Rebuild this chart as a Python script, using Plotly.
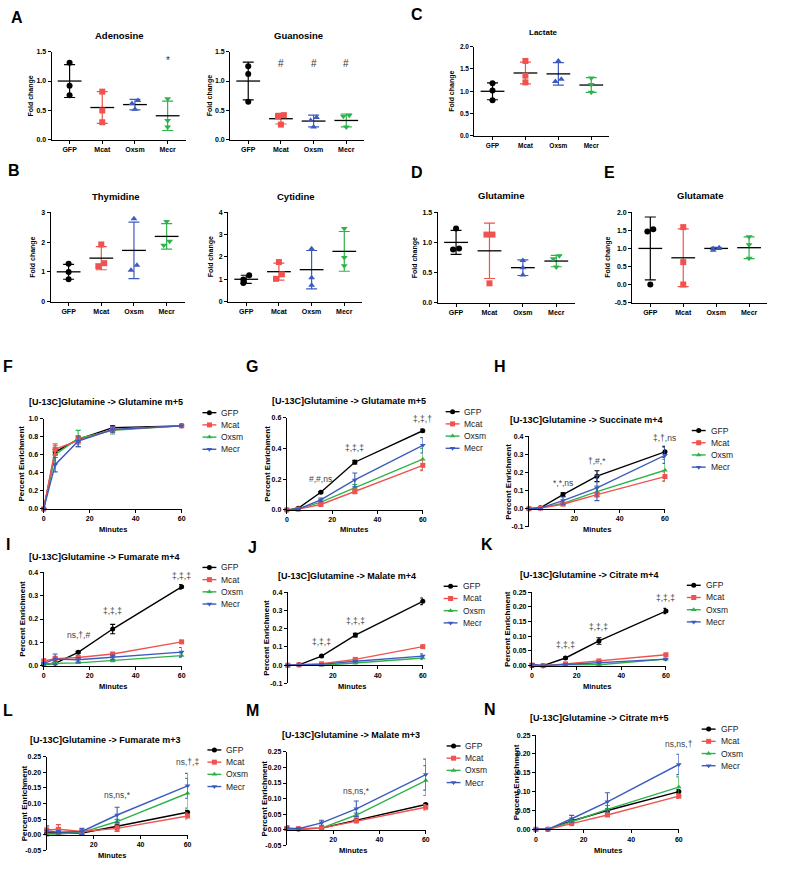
import plotly.graph_objects as go

W, H = 795, 870
FONT = "Liberation Sans, Arial, sans-serif"

GROUPS = ["GFP", "Mcat", "Oxsm", "Mecr"]
RED, BLUE, GREEN = "#f0524f", "#3c5bbf", "#2db34a"
# fold-change panels: Oxsm blue, Mecr green; time-course panels: Oxsm green, Mecr blue
FOLD_COLORS = {"GFP": "#000000", "Mcat": RED, "Oxsm": BLUE, "Mecr": GREEN}
TC_COLORS = {"GFP": "#000000", "Mcat": RED, "Oxsm": GREEN, "Mecr": BLUE}
SYMBOLS = {"GFP": "circle", "Mcat": "square", "Oxsm": "triangle-up", "Mecr": "triangle-down"}

# ---------------- fold-change data (GFP, Mcat, Oxsm, Mecr) ----------------
adenosine_pts = [[1.31, 0.92, 0.76], [0.82, 0.50, 0.30], [0.67, 0.62, 0.52], [0.70, 0.33, 0.22]]
adenosine_mean = [1.00, 0.55, 0.60, 0.41]
adenosine_sd = [0.28, 0.27, 0.09, 0.25]

guanosine_pts = [[1.25, 1.12, 0.65], [0.42, 0.40, 0.26], [0.38, 0.33, 0.22], [0.42, 0.40, 0.22]]
guanosine_mean = [1.00, 0.36, 0.32, 0.33]
guanosine_sd = [0.32, 0.09, 0.10, 0.11]

lactate_pts = [[1.18, 1.02, 0.80], [1.68, 1.35, 1.20], [1.68, 1.27, 1.22], [1.30, 1.15, 0.98]]
lactate_mean = [1.00, 1.41, 1.39, 1.14]
lactate_sd = [0.19, 0.245, 0.25, 0.165]

thymidine_pts = [[1.27, 0.99, 0.75], [1.92, 1.29, 1.19], [2.78, 1.22, 1.05], [2.69, 2.03, 1.89]]
thymidine_mean = [1.00, 1.46, 1.72, 2.19]
thymidine_sd = [0.25, 0.39, 0.95, 0.43]

cytidine_pts = [[1.18, 0.99, 0.83], [1.77, 1.22, 1.02], [2.37, 1.07, 0.73], [3.28, 1.97, 1.61]]
cytidine_mean = [1.00, 1.34, 1.43, 2.25]
cytidine_sd = [0.18, 0.38, 0.86, 0.89]

glutamine_pts = [[1.23, 0.90, 0.88], [1.13, 1.13, 0.32], [0.70, 0.58, 0.46], [0.78, 0.73, 0.59]]
glutamine_mean = [1.00, 0.86, 0.58, 0.69]
glutamine_sd = [0.20, 0.46, 0.13, 0.095]

glutamate_pts = [[1.53, 1.47, 0.00], [1.59, 0.62, 0.00], [1.02, 1.00, 0.95], [1.32, 1.10, 0.73]]
glutamate_mean = [1.00, 0.74, 1.00, 1.02]
glutamate_sd = [0.87, 0.80, 0.03, 0.30]

adenosine_notes = [(3, 1.35, "*")]
guanosine_notes = [(1, 1.30, "#"), (2, 1.30, "#"), (3, 1.30, "#")]

# ---------------- time-course data ----------------
minutes = [0, 5, 15, 30, 60]

gln_m5 = {"GFP": [0.0, 0.63, 0.77, 0.90, 0.92], "Mcat": [0.0, 0.66, 0.76, 0.88, 0.92],
          "Oxsm": [0.0, 0.60, 0.78, 0.87, 0.92], "Mecr": [0.0, 0.49, 0.75, 0.88, 0.92]}
gln_m5_sd = {"GFP": [0, 0.03, 0.03, 0.02, 0.01], "Mcat": [0, 0.06, 0.04, 0.03, 0.01],
             "Oxsm": [0, 0.10, 0.09, 0.04, 0.01], "Mecr": [0, 0.08, 0.06, 0.03, 0.01]}

glu_m5 = {"GFP": [0.0, 0.01, 0.115, 0.31, 0.515], "Mcat": [0.0, 0.005, 0.035, 0.12, 0.29],
          "Oxsm": [0.0, 0.005, 0.05, 0.145, 0.33], "Mecr": [0.0, 0.005, 0.065, 0.195, 0.42]}
glu_m5_sd = {"GFP": [0, 0.003, 0.005, 0.012, 0.01], "Mcat": [0, 0.003, 0.006, 0.015, 0.035],
             "Oxsm": [0, 0.003, 0.006, 0.02, 0.07], "Mecr": [0, 0.003, 0.012, 0.045, 0.05]}

suc_m4 = {"GFP": [0.0, 0.005, 0.078, 0.18, 0.315], "Mcat": [0.0, 0.003, 0.025, 0.078, 0.178],
          "Oxsm": [0.0, 0.003, 0.03, 0.095, 0.213], "Mecr": [0.0, 0.003, 0.045, 0.115, 0.296]}
suc_m4_sd = {"GFP": [0, 0.003, 0.01, 0.03, 0.03], "Mcat": [0, 0.002, 0.005, 0.01, 0.025],
             "Oxsm": [0, 0.002, 0.005, 0.03, 0.06], "Mecr": [0, 0.002, 0.02, 0.07, 0.045]}

fum_m4 = {"GFP": [0.005, 0.01, 0.057, 0.157, 0.338], "Mcat": [0.02, 0.03, 0.035, 0.05, 0.102],
          "Oxsm": [0.005, 0.01, 0.012, 0.022, 0.043], "Mecr": [0.01, 0.028, 0.025, 0.035, 0.058]}
fum_m4_sd = {"GFP": [0.002, 0.003, 0.004, 0.02, 0.01], "Mcat": [0.01, 0.01, 0.005, 0.005, 0.007],
             "Oxsm": [0.002, 0.003, 0.003, 0.005, 0.008], "Mecr": [0.005, 0.022, 0.01, 0.01, 0.02]}

mal_m4 = {"GFP": [0.0, 0.002, 0.05, 0.165, 0.35], "Mcat": [0.0, 0.002, 0.008, 0.032, 0.102],
          "Oxsm": [0.0, 0.001, 0.0, 0.012, 0.04], "Mecr": [0.0, 0.002, 0.005, 0.022, 0.05]}
mal_m4_sd = {"GFP": [0, 0.001, 0.004, 0.01, 0.018], "Mcat": [0, 0.001, 0.002, 0.004, 0.005],
             "Oxsm": [0, 0.001, 0.002, 0.003, 0.008], "Mecr": [0, 0.001, 0.002, 0.004, 0.012]}

cit_m4 = {"GFP": [0.0, 0.0, 0.026, 0.084, 0.186], "Mcat": [0.002, 0.0, 0.006, 0.016, 0.037],
          "Oxsm": [0.002, 0.0, 0.003, 0.003, 0.022], "Mecr": [0.005, 0.0, 0.004, 0.01, 0.022]}
cit_m4_sd = {"GFP": [0, 0.001, 0.003, 0.011, 0.009], "Mcat": [0, 0.001, 0.001, 0.002, 0.003],
             "Oxsm": [0, 0.001, 0.001, 0.001, 0.003], "Mecr": [0.002, 0.001, 0.001, 0.002, 0.003]}

fum_m3 = {"GFP": [0.005, 0.005, 0.005, 0.027, 0.072], "Mcat": [0.015, 0.017, 0.01, 0.02, 0.06],
          "Oxsm": [0.002, 0.002, 0.007, 0.042, 0.133], "Mecr": [0.012, 0.008, 0.01, 0.063, 0.157]}
fum_m3_sd = {"GFP": [0.002, 0.002, 0.002, 0.004, 0.006], "Mcat": [0.005, 0.015, 0.005, 0.01, 0.01],
             "Oxsm": [0.001, 0.002, 0.003, 0.007, 0.048], "Mecr": [0.016, 0.005, 0.01, 0.025, 0.04]}

mal_m3 = {"GFP": [0.003, 0.002, 0.005, 0.03, 0.081], "Mcat": [0.004, 0.003, 0.005, 0.028, 0.072],
          "Oxsm": [0.0, 0.001, 0.005, 0.047, 0.158], "Mecr": [0.005, 0.003, 0.022, 0.067, 0.177]}
mal_m3_sd = {"GFP": [0.001, 0.001, 0.001, 0.003, 0.004], "Mcat": [0.002, 0.001, 0.002, 0.006, 0.009],
             "Oxsm": [0.001, 0.001, 0.002, 0.006, 0.048], "Mecr": [0.007, 0.002, 0.008, 0.025, 0.05]}

cit_m5 = {"GFP": [0.0, 0.0, 0.022, 0.05, 0.10], "Mcat": [0.0, 0.0, 0.015, 0.038, 0.088],
          "Oxsm": [0.0, 0.0, 0.02, 0.053, 0.112], "Mecr": [0.0, 0.0, 0.028, 0.073, 0.172]}
cit_m5_sd = {"GFP": [0, 0, 0.002, 0.003, 0.005], "Mcat": [0, 0, 0.002, 0.003, 0.006],
             "Oxsm": [0, 0, 0.003, 0.01, 0.027], "Mecr": [0, 0, 0.009, 0.024, 0.027]}

glu_notes = [(15, 0.20, "#,#,ns"), (30, 0.40, "‡,‡,‡"), (60, 0.59, "‡,‡,†")]
suc_notes = [(15, 0.142, "*,*,ns"), (30, 0.262, "†,#,*"), (60, 0.39, "‡,†,ns")]
fum4_notes = [(15, 0.13, "ns,†,#"), (30, 0.235, "‡,‡,‡"), (60, 0.385, "‡,‡,‡")]
mal4_notes = [(15, 0.125, "‡,‡,‡"), (30, 0.24, "‡,‡,‡"), (60, 0.415, "‡,‡,‡")]
cit4_notes = [(15, 0.07, "‡,‡,‡"), (30, 0.13, "‡,‡,‡"), (60, 0.232, "‡,‡,‡")]
fum3_notes = [(30, 0.128, "ns,ns,*"), (60, 0.234, "ns,†,‡")]
mal3_notes = [(30, 0.125, "ns,ns,*"), (60, 0.26, "ns,‡,‡")]
cit5_notes = [(60, 0.225, "ns,ns,†")]

# ---------------- figure construction ----------------
fig = go.Figure()
layout = {}
annotations = []
count = [0]


def ax_names(n):
    s = "" if n == 1 else str(n)
    return "xaxis" + s, "yaxis" + s, "x" + s, "y" + s


def add_axes(box, xrange, xtv, xtt, yrange, ytv, ytt, free_zero=False, tsize=7):
    count[0] += 1
    n = count[0]
    xk, yk, xr, yr = ax_names(n)
    x0, x1, ytop, ybot = box
    ydom = [1 - ybot / H, 1 - ytop / H]
    common = dict(showline=True, linecolor="black", linewidth=1.2, ticks="outside",
                  ticklen=3, tickwidth=1.1, tickcolor="black", showgrid=False,
                  zeroline=False, fixedrange=True,
                  tickfont=dict(family=FONT, size=tsize, color="black", weight="bold"))
    xa = dict(domain=[x0 / W, x1 / W], range=xrange, anchor=yr, tickmode="array",
              tickvals=xtv, ticktext=xtt, **common)
    if free_zero:
        xa["anchor"] = "free"
        xa["position"] = ydom[0] + (0 - yrange[0]) / (yrange[1] - yrange[0]) * (ydom[1] - ydom[0])
    ya = dict(domain=ydom, range=yrange, anchor=xr, tickmode="array",
              tickvals=ytv, ticktext=ytt, **common)
    layout[xk] = xa
    layout[yk] = ya
    return xr, yr


def text(x, y, s, size, bold=False, angle=0, xanchor="center", color="black", xref="paper", yref="paper"):
    if xref == "paper":
        x = x / W
    if yref == "paper":
        y = 1 - y / H
    annotations.append(dict(x=x, y=y, xref=xref, yref=yref, text=s, showarrow=False,
                            xanchor=xanchor, yanchor="middle", textangle=angle,
                            font=dict(family=FONT, size=size, color=color,
                                      weight="bold" if bold else "normal")))


def spread(vals, span):
    offs = [0.0] * len(vals)
    order = sorted(range(len(vals)), key=lambda k: vals[k])
    for a, b in zip(order, order[1:]):
        if abs(vals[a] - vals[b]) < 0.06 * span:
            offs[a] = -0.09
            offs[b] = 0.09
    return offs


def fold_panel(box, title, title_pos, ylab_x, pts, mean, sd, yrange, ytv, ytt, notes=(),
               tsize=7, title_size=9.5):
    xr, yr = add_axes(box, [-0.55, 3.55], list(range(4)), GROUPS, yrange, ytv, ytt, tsize=tsize)
    span = yrange[1] - yrange[0]
    for i, g in enumerate(GROUPS):
        c = FOLD_COLORS[g]
        fig.add_trace(go.Scatter(
            x=[i], y=[mean[i]], mode="markers", xaxis=xr, yaxis=yr, showlegend=False,
            cliponaxis=False, hoverinfo="skip",
            marker=dict(symbol="line-ew", size=17, color="black", line=dict(color="black", width=1.3)),
            error_y=dict(type="data", array=[sd[i]], color=c, thickness=1.2, width=5.5)))
        offs = spread(pts[i], span)
        fig.add_trace(go.Scatter(
            x=[i + o for o in offs], y=pts[i], mode="markers", xaxis=xr, yaxis=yr,
            showlegend=False, cliponaxis=False,
            marker=dict(symbol=SYMBOLS[g], size=6, color=c, line=dict(width=0))))
    text(title_pos[0], title_pos[1], title, title_size, bold=True)
    text(ylab_x, (box[2] + box[3]) / 2, "Fold change", 7, bold=True, angle=-90)
    for (nx, ny, s) in notes:
        text(nx, ny, s, 10, color="#333333", xref=xr, yref=yr)


DRAW_ORDER = ["GFP", "Oxsm", "Mcat", "Mecr"]


def time_panel(box, yrange, ytv, yfmt, data, sd, title, title_pos, ylab_x, min_pos, notes,
               legend_pos, free_zero=False):
    xtv = [20, 40, 60] if free_zero else [0, 20, 40, 60]
    xr, yr = add_axes(box, [0, 60], xtv, [str(v) for v in xtv], yrange, ytv,
                      [format(v, yfmt) for v in ytv], free_zero=free_zero)
    for g in DRAW_ORDER:
        c = TC_COLORS[g]
        fig.add_trace(go.Scatter(
            x=minutes, y=data[g], mode="lines+markers", xaxis=xr, yaxis=yr, showlegend=False,
            cliponaxis=False, line=dict(color=c, width=1.4),
            marker=dict(symbol=SYMBOLS[g], size=5, color=c),
            error_y=dict(type="data", array=sd[g], color=c, thickness=1.1, width=2.5)))
    text(title_pos[0], title_pos[1], title, 9, bold=True)
    text(ylab_x, (box[2] + box[3]) / 2, "Percent Enrichment", 8, bold=True, angle=-90)
    text(min_pos[0], min_pos[1], "Minutes", 7.5, bold=True)
    for (nx, ny, s) in notes:
        text(nx, ny, s, 8.5, color="#444444", xref=xr, yref=yr)
    # legend
    lx, ly = legend_pos
    for k, g in enumerate(GROUPS):
        yy = ly + k * 12.3
        fig.add_trace(go.Scatter(
            x=[lx, lx + 14], y=[yy, yy], mode="lines", xaxis="x99", yaxis="y99",
            showlegend=False, hoverinfo="skip", line=dict(color=TC_COLORS[g], width=1.4)))
        fig.add_trace(go.Scatter(
            x=[lx + 7], y=[yy], mode="markers", xaxis="x99", yaxis="y99",
            showlegend=False, hoverinfo="skip",
            marker=dict(symbol=SYMBOLS[g], size=5, color=TC_COLORS[g])))
        text(lx + 17, yy, g, 8.5, xanchor="left", color="#222222")


# fold-change panels
fold_panel((50, 185, 48, 137), "Adenosine", (118, 32), 29, adenosine_pts, adenosine_mean,
           adenosine_sd, [0, 1.5], [0, 0.5, 1.0, 1.5], ["0.0", "0.5", "1.0", "1.5"], adenosine_notes)
fold_panel((230, 365, 48, 137), "Guanosine", (299, 32), 209, guanosine_pts, guanosine_mean,
           guanosine_sd, [0, 1.5], [0, 0.5, 1.0, 1.5], ["0.0", "0.5", "1.0", "1.5"], guanosine_notes)
fold_panel((476, 612, 43, 133), "Lactate", (546, 29), 454, lactate_pts, lactate_mean,
           lactate_sd, [0, 2.0], [0, 0.5, 1.0, 1.5, 2.0], ["0.0", "0.5", "1.0", "1.5", "2.0"],
           tsize=6.5, title_size=8)
fold_panel((49, 184, 210, 300), "Thymidine", (115, 194), 31, thymidine_pts, thymidine_mean,
           thymidine_sd, [0, 3], [0, 1, 2, 3], ["0", "1", "2", "3"])
fold_panel((228, 363, 210, 300), "Cytidine", (296, 194), 211, cytidine_pts, cytidine_mean,
           cytidine_sd, [0, 4], [0, 1, 2, 3, 4], ["0", "1", "2", "3", "4"])
fold_panel((439, 577, 210, 301), "Glutamine", (503, 193), 417, glutamine_pts, glutamine_mean,
           glutamine_sd, [0, 1.5], [0, 0.5, 1.0, 1.5], ["0.0", "0.5", "1.0", "1.5"])
fold_panel((635, 771, 210, 301), "Glutamate", (703, 193), 611, glutamate_pts, glutamate_mean,
           glutamate_sd, [-0.5, 2.0], [-0.5, 0, 0.5, 1.0, 1.5, 2.0],
           ["-0.5", "0.0", "0.5", "1.0", "1.5", "2.0"])

# time-course panels
time_panel((42, 181, 418, 509), [0, 1.0], [0, 0.2, 0.4, 0.6, 0.8, 1.0], ".1f", gln_m5, gln_m5_sd,
           "[U-13C]Glutamine -> Glutamine m+5", (105, 401), 20, (112, 530), [], (202, 412))
time_panel((287, 424, 417, 510), [0, 0.6], [0, 0.2, 0.4, 0.6], ".1f", glu_m5, glu_m5_sd,
           "[U-13C]Glutamine -> Glutamate m+5", (350, 400), 268, (355, 530), glu_notes, (447, 411))
time_panel((531, 668, 436, 527), [-0.1, 0.4], [-0.1, 0, 0.1, 0.2, 0.3, 0.4], ".1f", suc_m4, suc_m4_sd,
           "[U-13C]Glutamine -> Succinate m+4", (589, 419), 510, (600, 530), suc_notes, (695, 430),
           free_zero=True)
time_panel((42, 181, 573, 667), [0, 0.4], [0, 0.1, 0.2, 0.3, 0.4], ".1f", fum_m4, fum_m4_sd,
           "[U-13C]Glutamine -> Fumarate m+4", (103, 557), 20, (112, 688), fum4_notes, (202, 568))
time_panel((288, 424, 593, 685), [-0.1, 0.4], [-0.1, 0, 0.1, 0.2, 0.3, 0.4], ".1f", mal_m4, mal_m4_sd,
           "[U-13C]Glutamine -> Malate m+4", (348, 577), 267, (353, 688), mal4_notes, (445, 587),
           free_zero=True)
time_panel((534, 669, 593, 667), [0, 0.25], [0, 0.05, 0.10, 0.15, 0.20, 0.25], ".2f", cit_m4, cit_m4_sd,
           "[U-13C]Glutamine -> Citrate m+4", (592, 576), 510, (600, 688), cit4_notes, (690, 586))
time_panel((45, 187, 759, 853), [-0.05, 0.25], [-0.05, 0, 0.05, 0.10, 0.15, 0.20, 0.25], ".2f",
           fum_m3, fum_m3_sd, "[U-13C]Glutamine -> Fumarate m+3", (104, 742), 23, (111, 858),
           fum3_notes, (207, 752), free_zero=True)
time_panel((287, 427, 754, 848), [-0.05, 0.25], [-0.05, 0, 0.05, 0.10, 0.15, 0.20, 0.25], ".2f",
           mal_m3, mal_m3_sd, "[U-13C]Glutamine -> Malate m+3", (352, 737), 265, (354, 853),
           mal3_notes, (448, 748), free_zero=True)
time_panel((538, 682, 737, 832), [0, 0.25], [0, 0.05, 0.10, 0.15, 0.20, 0.25], ".2f",
           cit_m5, cit_m5_sd, "[U-13C]Glutamine -> Citrate m+5", (602, 720), 518, (611, 853),
           cit5_notes, (705, 731))

# panel letters
for letter, (lx, ly) in {"A": (15, 14), "B": (12, 168), "C": (418, 11), "D": (418, 170),
                         "E": (612, 170), "F": (6, 365), "G": (252, 365), "H": (502, 365),
                         "I": (6, 545), "J": (252, 548), "K": (489, 545), "L": (6, 712),
                         "M": (252, 712), "N": (492, 711)}.items():
    text(lx, ly, letter, 16, bold=True)

# overlay axis in pixel units for the legend glyphs
layout["xaxis99"] = dict(domain=[0, 1], range=[0, W], visible=False, fixedrange=True, anchor="y99")
layout["yaxis99"] = dict(domain=[0, 1], range=[H, 0], visible=False, fixedrange=True, anchor="x99")

fig.update_layout(width=W, height=H, margin=dict(l=0, r=0, t=0, b=0),
                  paper_bgcolor="white", plot_bgcolor="rgba(0,0,0,0)",
                  showlegend=False, annotations=annotations,
                  font=dict(family=FONT), **layout)

fig.write_html("out.html", config={"displayModeBar": False},
               post_script="document.body.style.margin='0';document.body.style.overflow='hidden';")
